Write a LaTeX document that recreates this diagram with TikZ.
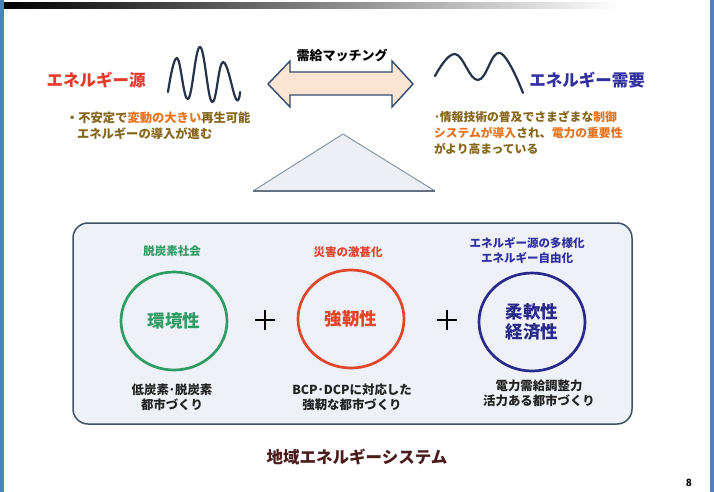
\documentclass[tikz,border=0pt]{standalone}
\usepackage{fontspec}
\setmainfont{Noto Sans CJK JP}
\usetikzlibrary{shapes.geometric}
\definecolor{stripblue}{HTML}{4F81BD}
\definecolor{srcred}{HTML}{E63A2A}
\definecolor{dmdblue}{HTML}{3030A0}
\definecolor{olivetx}{HTML}{86661A}
\definecolor{orng}{HTML}{E8731C}
\definecolor{envgreen}{HTML}{2E9C63}
\definecolor{resred}{HTML}{E0462A}
\definecolor{flexblue}{HTML}{2A2A8A}
\definecolor{wavecol}{HTML}{25324A}
\definecolor{arrowfill}{HTML}{FCE4D2}
\definecolor{arrowline}{HTML}{2F4B6B}
\definecolor{trifill}{HTML}{ECEFF5}
\definecolor{triline}{HTML}{7F8FA0}
\definecolor{boxfill}{HTML}{EEF1F7}
\definecolor{boxline}{HTML}{3F5266}
\definecolor{titlecol}{HTML}{4A1C1C}
\definecolor{darktx}{HTML}{222222}
\begin{document}
\begin{tikzpicture}[x=1pt,y=-1pt,
  every node/.style={inner sep=0pt, outer sep=0pt},
  bigtitle/.style={font=\fontsize{16.5pt}{18pt}\selectfont\bfseries},
  bullet/.style={anchor=west, text=olivetx, font=\fontsize{12.3pt}{14pt}\selectfont\bfseries},
  smalllab/.style={align=center, font=\fontsize{11.5pt}{15pt}\selectfont\bfseries},
  lowlab/.style={align=center, text=darktx, font=\fontsize{12.4pt}{15pt}\selectfont\bfseries},
  ring/.style={ellipse, draw, line width=2.7pt, minimum width=106pt, minimum height=98pt, align=center, font=\fontsize{17.5pt}{20pt}\selectfont\bfseries},
  wave/.style={draw=wavecol, line width=2.2pt, line cap=round, line join=round},
  plussign/.style={line width=2.6pt, draw=black}
]
\useasboundingbox (0,0) rectangle (714,492);
\fill[white] (0,0) rectangle (714,492);
% side strips and top bar
\fill[stripblue] (0,0) rectangle (4,492);
\fill[stripblue] (710,0) rectangle (714,492);
\shade[left color=black, middle color=black!55, right color=white] (4,3) rectangle (620,9);

% top left
\node[bigtitle, text=srcred] (src) at (96,80) {エネルギー源};
\draw[wave] plot[smooth, tension=0.7] coordinates {(168,92) (177,58) (188,99) (200,47) (212,102) (223,62) (236,99) (240,92)};
\node[bullet] (srcl1) at (66,118) {・不安定で\textcolor{orng}{変動の大きい}再生可能};
\node[bullet] (srcl2) at (77,134) {エネルギーの導入が進む};

% double arrow
\node[font=\fontsize{13pt}{15pt}\selectfont\bfseries] (match) at (342,55) {需給マッチング};
\draw[fill=arrowfill, draw=arrowline, line width=1.4pt, line join=miter]
  (268,84) -- (290,61) -- (290,72) -- (392,72) -- (392,61) -- (413,84)
  -- (392,107) -- (392,95) -- (290,95) -- (290,107) -- cycle;

% top right
\draw[wave] plot[smooth, tension=0.7] coordinates {(435,76) (455,54) (478,80) (500,53) (523,93)};
\node[bigtitle, text=dmdblue] (dmd) at (587,80) {エネルギー需要};
\node[bullet, font=\fontsize{11.8pt}{14pt}\selectfont\bfseries] (dmdl1) at (434,117) {･情報技術の普及でさまざまな\textcolor{orng}{制御}};
\node[bullet, font=\fontsize{11.8pt}{14pt}\selectfont\bfseries] (dmdl2) at (434,133) {\textcolor{orng}{システムが導入}され、\textcolor{orng}{電力の重要性}};
\node[bullet, font=\fontsize{11.8pt}{14pt}\selectfont\bfseries] (dmdl3) at (434,149) {がより高まっている};

% triangle
\fill[trifill] (253,191) -- (343,134) -- (435,191) -- cycle;
\draw[draw=triline, line width=0.9pt, line join=round] (253,191) -- (343,134) -- (435,191);
\draw[draw=triline!80!black, line width=1.3pt] (253,191) -- (435,191);

% box
\draw[fill=boxfill, draw=boxline, line width=1.5pt, rounded corners=15pt] (73,223) rectangle (632,424);

% top labels
\node[smalllab, text=envgreen] (envtop) at (172,251) {脱炭素社会};
\node[smalllab, text=resred] (restop) at (348,252) {災害の激甚化};
\node[smalllab, text=dmdblue] (flextop) at (527,251) {エネルギー源の多様化\\エネルギー自由化};

% circles
\node[ring, draw=envgreen, text=envgreen] (env) at (174,321) {環境性};
\node[ring, draw=resred, text=resred] (res) at (351,319) {強靭性};
\node[ring, draw=flexblue, text=flexblue] (flex) at (532,322) {柔軟性\\経済性};

% plus signs
\draw[plussign] (255,320) -- (275,320) (265,310) -- (265,330);
\draw[plussign] (437,320) -- (457,320) (447,310) -- (447,330);

% bottom labels
\node[lowlab] (envbot) at (172,397) {低炭素･脱炭素\\都市づくり};
\node[lowlab] (resbot) at (352,397) {BCP･DCPに対応した\\強靭な都市づくり};
\node[lowlab] (flexbot) at (539,393) {電力需給調整力\\活力ある都市づくり};

% title
\node[font=\fontsize{16.5pt}{18pt}\selectfont\bfseries, text=titlecol] (title) at (357,457) {地域エネルギーシステム};
\node[font=\fontsize{10pt}{12pt}\selectfont\bfseries] (pagenum) at (689,483) {8};
\end{tikzpicture}
\end{document}
